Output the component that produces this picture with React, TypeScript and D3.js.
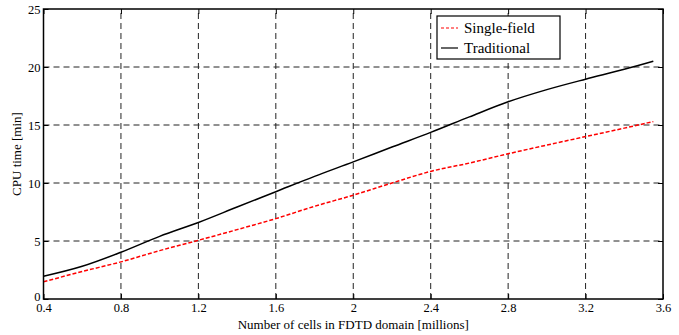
import React, { useRef, useEffect } from "react";
import * as d3 from "d3";

// cells in FDTD domain [millions]
const cells = [0.4, 0.6, 0.8, 1.0, 1.2, 1.4, 1.6, 1.8, 2.0, 2.2, 2.4, 2.6, 2.8, 3.0, 3.2, 3.4, 3.55];
// CPU time [min]
const singleField = [1.48, 2.37, 3.2, 4.17, 5.06, 5.98, 6.93, 7.99, 8.95, 10.0, 11.0, 11.72, 12.52, 13.27, 14.0, 14.73, 15.3];
const traditional = [1.96, 2.82, 4.03, 5.4, 6.6, 7.93, 9.25, 10.57, 11.82, 13.1, 14.36, 15.7, 17.0, 18.05, 18.95, 19.8, 20.5];

const xTicks = [0.4, 0.8, 1.2, 1.6, 2, 2.4, 2.8, 3.2, 3.6];
const yTicks = [0, 5, 10, 15, 20, 25];

const seriesNames = ["Single-field", "Traditional"];

const FONT = "Liberation Serif, Times New Roman, DejaVu Serif, serif";

const App = () => {
  const svgRef = useRef<SVGSVGElement>(null);

  useEffect(() => {
    const w = 679;
    const h = 335;
    const margin = { top: 9, right: 16, bottom: 36, left: 43.5 };

    const svg = d3
      .select(svgRef.current)
      .attr("width", w)
      .attr("height", h)
      .style("background", "#fff")
      .style("font-family", FONT);
    svg.selectAll("*").remove();

    const x = d3.scaleLinear().domain([0.4, 3.6]).range([margin.left, w - margin.right]);
    const y = d3.scaleLinear().domain([0, 25]).range([h - margin.bottom, margin.top]);

    const x0 = x.range()[0];
    const x1 = x.range()[1];
    const y0 = y.range()[0];
    const y1 = y.range()[1];

    // grid
    const grid = svg.append("g").attr("stroke", "#222").attr("stroke-width", 1).attr("stroke-dasharray", "6,4");
    grid
      .selectAll("line.gx")
      .data(xTicks.slice(1, -1))
      .enter()
      .append("line")
      .attr("x1", (d) => x(d))
      .attr("x2", (d) => x(d))
      .attr("y1", y0)
      .attr("y2", y1);
    grid
      .selectAll("line.gy")
      .data(yTicks.slice(1, -1))
      .enter()
      .append("line")
      .attr("x1", x0)
      .attr("x2", x1)
      .attr("y1", (d) => y(d))
      .attr("y2", (d) => y(d));

    // lines
    const line = d3
      .line<number>()
      .x((_, i) => x(cells[i]))
      .y((d) => y(d))
      .curve(d3.curveMonotoneX);

    svg
      .append("path")
      .datum(traditional)
      .attr("d", line)
      .attr("fill", "none")
      .attr("stroke", "#000")
      .attr("stroke-width", 1.5);

    svg
      .append("path")
      .datum(singleField)
      .attr("d", line)
      .attr("fill", "none")
      .attr("stroke", "#ff0000")
      .attr("stroke-width", 1.5)
      .attr("stroke-dasharray", "4,2");

    // axes (MATLAB style ticks inside)
    const xAxis = d3.axisBottom(x).tickValues(xTicks).tickSize(-5).tickPadding(4).tickFormat((d) => String(d));
    const gx = svg.append("g").attr("transform", `translate(0, ${y0})`).call(xAxis);
    const yAxis = d3.axisLeft(y).tickValues(yTicks).tickSize(-5).tickPadding(3);
    const gy = svg.append("g").attr("transform", `translate(${x0}, 0)`).call(yAxis);

    // ticks on top and right
    const xAxisTop = d3.axisTop(x).tickValues(xTicks).tickSize(-5).tickFormat(() => "");
    const gxt = svg.append("g").attr("transform", `translate(0, ${y1})`).call(xAxisTop);
    const yAxisRight = d3.axisRight(y).tickValues(yTicks).tickSize(-5).tickFormat(() => "");
    const gyr = svg.append("g").attr("transform", `translate(${x1}, 0)`).call(yAxisRight);

    [gx, gy, gxt, gyr].forEach((g) => {
      g.attr("font-family", null).attr("font-size", null);
      g.select(".domain").remove();
      g.selectAll(".tick line").attr("stroke", "#000");
      g.selectAll(".tick text").style("font-family", FONT).style("font-size", "12.5px").attr("fill", "#000");
    });
    // the "0" label sits just above the "0.4" label, as in the original
    gy.selectAll(".tick text").filter((d) => d === 0).attr("dy", "0.1em");

    // frame
    svg
      .append("rect")
      .attr("x", x0)
      .attr("y", y1)
      .attr("width", x1 - x0)
      .attr("height", y0 - y1)
      .attr("fill", "none")
      .attr("stroke", "#000")
      .attr("stroke-width", 1.5);

    // axis labels
    svg
      .append("text")
      .attr("x", (x0 + x1) / 2)
      .attr("y", h - 6)
      .attr("text-anchor", "middle")
      .style("font-size", "13px")
      .text("Number of cells in FDTD domain [millions]");

    svg
      .append("text")
      .attr("transform", `translate(21, ${(y0 + y1) / 2}) rotate(-90)`)
      .attr("text-anchor", "middle")
      .style("font-size", "13px")
      .text("CPU time [min]");

    // legend
    const lg = svg.append("g").attr("transform", "translate(437, 16)");
    lg.append("rect")
      .attr("width", 123)
      .attr("height", 43)
      .attr("fill", "#fff")
      .attr("stroke", "#000")
      .attr("stroke-width", 1.2);
    const items = lg
      .selectAll("g.item")
      .data(seriesNames)
      .enter()
      .append("g")
      .attr("transform", (_, i) => `translate(0, ${12 + i * 20})`);
    items
      .append("line")
      .attr("x1", 4)
      .attr("x2", 21)
      .attr("y1", 0)
      .attr("y2", 0)
      .attr("stroke", (_, i) => (i === 0 ? "#ff0000" : "#000"))
      .attr("stroke-width", 1.2)
      .attr("stroke-dasharray", (_, i) => (i === 0 ? "3,2" : null));
    items
      .append("text")
      .attr("x", 27)
      .attr("y", 5)
      .style("font-size", "15px")
      .text((d) => d);
  }, []);

  return <svg ref={svgRef} style={{ position: "absolute", left: 0, top: 0 }}></svg>;
};

export default App;
